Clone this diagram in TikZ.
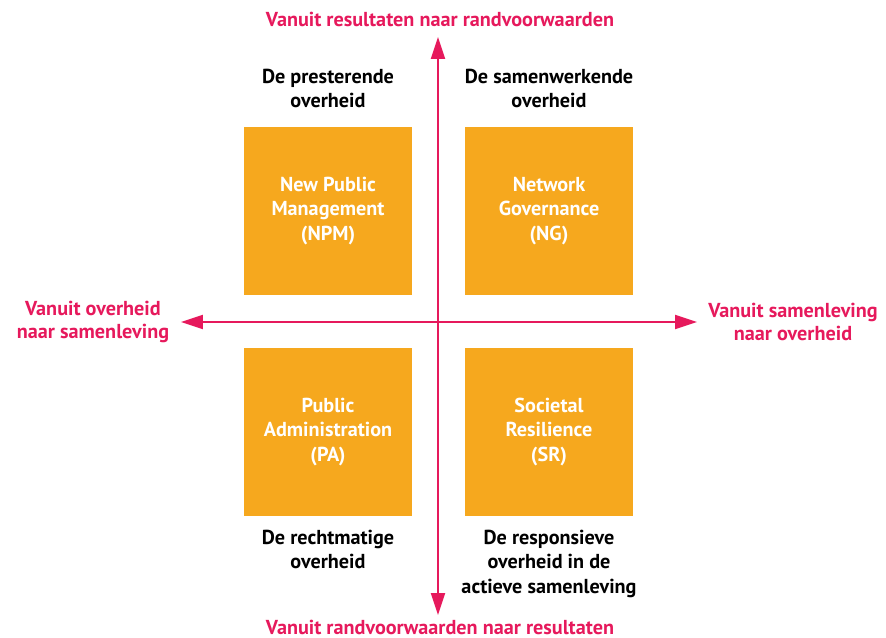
\documentclass[tikz,border=0pt]{standalone}
\usepackage{fontspec}
\setmainfont{PT Sans}
\usetikzlibrary{positioning}
\usetikzlibrary{arrows.meta}
\definecolor{blokoranje}{HTML}{F6A81E}
\definecolor{asroze}{HTML}{E6195C}

\begin{document}
\begin{tikzpicture}[x=0.02cm, y=-0.02cm,
			blok/.style={
				rectangle,
				minimum width=3.36cm,
				minimum height=3.36cm,
				inner sep=0pt,
				fill=blokoranje,
				text=white,
				font=\fontsize{11.5}{13.8}\selectfont\bfseries,
				align=center
			},
			kwadrant/.style={
				inner sep=2pt,
				font=\fontsize{11.5}{13.8}\selectfont\bfseries,
				align=center
			},
			aslabel/.style={
				inner sep=2pt,
				text=asroze,
				font=\fontsize{11.5}{13.2}\selectfont\bfseries,
				align=center
			},
			as/.style={
				draw=asroze,
				line width=1.3pt,
				{Triangle[length=0.44cm,width=0.28cm]}-{Triangle[length=0.44cm,width=0.28cm]}
			}
			]
			\useasboundingbox (0,0) rectangle (886,638);
			
			% Blokken
			\node[blok] (npm) at (328,211) {New Public\\Management\\(NPM)};
			\node[blok] (ng) at (549,211) {Network\\Governance\\(NG)};
			\node[blok] (pa) at (328,432) {Public\\Administration\\(PA)};
			\node[blok] (sr) at (549,432) {Societal\\Resilience\\(SR)};
			
			% Kwadranten
			\node[kwadrant, above=0.3cm of npm] (presterend) {De presterende\\overheid};
			\node[kwadrant, above=0.3cm of ng] (samenwerkend) {De samenwerkende\\overheid};
			\node[kwadrant, below=0.2cm of pa] (rechtmatig) {De rechtmatige\\overheid};
			\node[kwadrant, below=0.2cm of sr] (responsief) {De responsieve\\overheid in de\\actieve samenleving};
			
			% Assen
			\coordinate (boven) at (438,37);
			\coordinate (onder) at (438,615);
			\coordinate (links) at (181,322);
			\coordinate (rechts) at (697,322);
			\draw[as] (onder) -- (boven);
			\draw[as] (links) -- (rechts);
			
			% Labels bij de assen
			\node[aslabel] (lboven) at (440,19) {Vanuit resultaten naar randvoorwaarden};
			\node[aslabel] (londer) at (440,627) {Vanuit randvoorwaarden naar resultaten};
			\node[aslabel] (llinks) at (93,322) {Vanuit overheid\\naar samenleving};
			\node[aslabel] (lrechts) at (793,322) {Vanuit samenleving\\naar overheid};
			
		\end{tikzpicture}
\end{document}
